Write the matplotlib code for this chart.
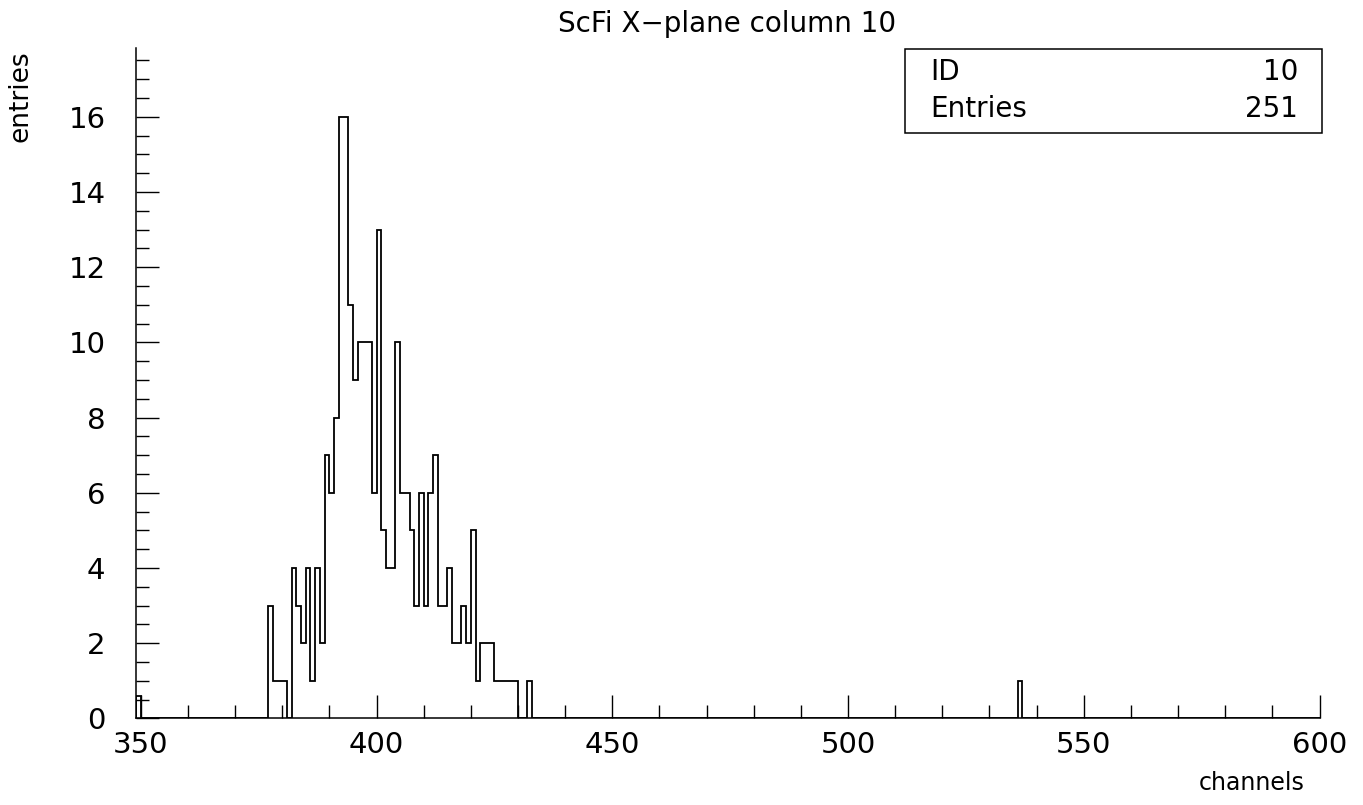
import numpy as np
import matplotlib
matplotlib.use("Agg")
import matplotlib.pyplot as plt
from matplotlib.patches import Rectangle

plt.rcParams["font.family"] = ["DejaVu Sans"]

# non-empty bins (left edge of a 1-channel bin) and their contents
channel = [349, 377, 378, 379, 380, 382, 383, 384, 385, 386, 387, 388, 389,
           390, 391, 392, 393, 394, 395, 396, 397, 398, 399, 400, 401, 402,
           403, 404, 405, 406, 407, 408, 409, 410, 411, 412, 413, 414, 415,
           416, 417, 418, 419, 420, 421, 422, 423, 424, 425, 426, 427, 428,
           429, 432, 536]
entries = [0.6, 3, 1, 1, 1, 4, 3, 2, 4, 1, 4, 2, 7,
           6, 8, 16, 16, 11, 9, 10, 10, 10, 6, 13, 5, 4,
           4, 10, 6, 6, 5, 3, 6, 3, 6, 7, 3, 3, 4,
           2, 2, 3, 2, 5, 1, 2, 2, 2, 1, 1, 1, 1,
           1, 1, 1]

hist_id = 10
n_entries = 251
x_min, x_max = 349, 601

edges = np.arange(x_min, x_max + 1)
counts = np.zeros(len(edges) - 1)
counts[np.array(channel) - x_min] = entries

fig = plt.figure(figsize=(13.63, 8.05), dpi=100)
ax = fig.add_axes([0.0998, 0.1075, 0.869, 0.8325])

ax.stairs(counts, edges, color="black", lw=1.3)

ax.set_xlim(349.0, 600.2)
ax.set_ylim(0, 17.82)
for s in ["top", "right"]:
    ax.spines[s].set_visible(False)
for s in ["left", "bottom"]:
    ax.spines[s].set_linewidth(1.1)

ax.set_xticks(np.arange(350, 601, 50))
ax.set_xticks(np.arange(350, 601, 10), minor=True)
ax.set_yticks(np.arange(0, 17, 2))
ax.set_yticks(np.arange(0, 17.6, 0.5), minor=True)
ax.tick_params(which="both", direction="in", width=1.0, labelsize=21)
ax.tick_params(which="major", length=16.5)
ax.tick_params(which="minor", length=9.5)
ax.tick_params(axis="x", pad=9)
ax.tick_params(axis="y", pad=22)

fig.text(0.5334, 0.970, "ScFi X\u2212plane column 10", ha="center",
         va="center", fontsize=20)
fig.text(0.0154, 0.938, "entries", rotation=90, ha="center", va="top",
         fontsize=19)
fig.text(0.9574, 0.0273, "channels", ha="right", va="center", fontsize=17)

# stats box
fig.add_artist(Rectangle((0.664, 0.8348), 0.306, 0.1043,
                         transform=fig.transFigure, fill=False,
                         edgecolor="black", lw=1.1))
fig.text(0.6823, 0.9106, "ID", ha="left", va="center", fontsize=20)
fig.text(0.9523, 0.9106, str(hist_id), ha="right", va="center", fontsize=20)
fig.text(0.6823, 0.8646, "Entries", ha="left", va="center", fontsize=20)
fig.text(0.9523, 0.8646, str(n_entries), ha="right", va="center", fontsize=20)

fig.savefig("out.png", dpi=100)
